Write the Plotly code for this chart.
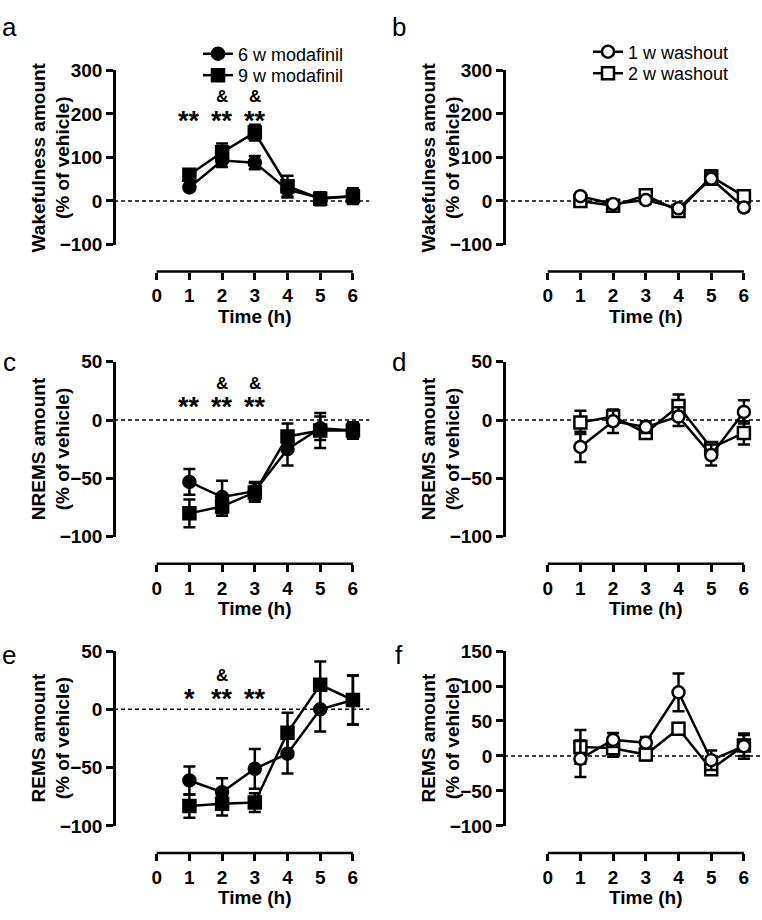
import plotly.graph_objects as go

# ---------------- data ----------------
hours = [1, 2, 3, 4, 5, 6]

# a: wakefulness, modafinil
wake_6w = [31, 93, 88, 26, 7, 11]
wake_6w_err = [6, 15, 15, 18, 12, 12]
wake_9w = [60, 112, 157, 34, 5, 11]
wake_9w_err = [8, 20, 18, 24, 15, 18]

# b: wakefulness, washout
wake_1w = [11, -7, 2, -17, 51, -15]
wake_1w_err = [6, 8, 8, 8, 14, 8]
wake_2w = [0, -11, 13, -23, 56, 11]
wake_2w_err = [6, 8, 8, 6, 14, 8]

# c: NREMS, modafinil
nrem_6w = [-53, -66, -61, -25, -7, -9]
nrem_6w_err = [11, 14, 8, 14, 10, 7]
nrem_9w = [-80, -74, -62, -14, -9, -9]
nrem_9w_err = [12, 8, 8, 11, 15, 7]

# d: NREMS, washout
nrem_1w = [-23, -1, -6, 3, -30, 7]
nrem_1w_err = [13, 10, 5, 8, 9, 10]
nrem_2w = [-2, 3, -11, 12, -24, -11]
nrem_2w_err = [10, 5, 5, 10, 5, 10]

# e: REMS, modafinil
rem_6w = [-61, -71, -51, -38, 0, 8]
rem_6w_err = [12, 12, 17, 17, 19, 21]
rem_9w = [-83, -81, -80, -20, 21, 8]
rem_9w_err = [10, 10, 8, 17, 20, 21]

# f: REMS, washout
rem_1w = [-4, 23, 19, 91, -6, 14]
rem_1w_err = [26, 10, 8, 27, 14, 18]
rem_2w = [13, 11, 2, 39, -19, 15]
rem_2w_err = [24, 12, 8, 8, 8, 15]

# significance marks: (hour, value, text)
stars_a = [(1, 184, "**"), (2, 184, "**"), (3, 184, "**")]
amps_a = [(2, 240, "&"), (3, 240, "&")]
stars_c = [(1, 11.5, "**"), (2, 11.5, "**"), (3, 11.5, "**")]
amps_c = [(2, 31.5, "&"), (3, 31.5, "&")]
stars_e = [(1, 9, "*"), (2, 9, "**"), (3, 9, "**")]
amps_e = [(2, 29, "&")]

ylabels = {
    "a": "Wakefulness amount<br>(% of vehicle)",
    "c": "NREMS amount<br>(% of vehicle)",
    "e": "REMS amount<br>(% of vehicle)",
}
xlabel = "Time (h)"
names_mod = ["6 w modafinil", "9 w modafinil"]
names_wash = ["1 w washout", "2 w washout"]

# ---------------- layout geometry (pixels) ----------------
W, H = 762, 920
FONT = "Liberation Sans"
col_yaxis = [114, 504]
col_x0 = [156.7, 547.7]
px_per_h = 32.7
XPAD = 0.35  # hours of padding so end-point error caps are not clipped
rows = [  # (top px, bottom px, x-axis line px)
    (61.7, 240, 267.7),
    (360, 539, 566.7),
    (656, 835, 862.7),
]


def fx(px):
    return px / W


def fy(py):
    return 1 - py / H


fig = go.Figure()

panels = [
    ("a", 0, 0, [-100, 300], 100,
     [(wake_6w, wake_6w_err, "circle", "black", names_mod[0], "legend"),
      (wake_9w, wake_9w_err, "square", "black", names_mod[1], "legend2")], stars_a, amps_a),
    ("b", 0, 1, [-100, 300], 100,
     [(wake_2w, wake_2w_err, "square", "white", names_wash[1], "legend4"),
      (wake_1w, wake_1w_err, "circle", "white", names_wash[0], "legend3")], [], []),
    ("c", 1, 0, [-100, 50], 50,
     [(nrem_6w, nrem_6w_err, "circle", "black", None, None),
      (nrem_9w, nrem_9w_err, "square", "black", None, None)], stars_c, amps_c),
    ("d", 1, 1, [-100, 50], 50,
     [(nrem_2w, nrem_2w_err, "square", "white", None, None),
      (nrem_1w, nrem_1w_err, "circle", "white", None, None)], [], []),
    ("e", 2, 0, [-100, 50], 50,
     [(rem_6w, rem_6w_err, "circle", "black", None, None),
      (rem_9w, rem_9w_err, "square", "black", None, None)], stars_e, amps_e),
    ("f", 2, 1, [-100, 150], 50,
     [(rem_2w, rem_2w_err, "square", "white", None, None),
      (rem_1w, rem_1w_err, "circle", "white", None, None)], [], []),
]

annotations = []
shapes = []
layout_axes = {}
tickfont = dict(family=FONT, size=19, color="black", weight="bold")

for i, (letter, r, c, yr, dt, series, stars, amps) in enumerate(panels):
    n = i + 1
    xa = "x" if n == 1 else f"x{n}"
    ya = "y" if n == 1 else f"y{n}"
    top, bot, xline = rows[r]
    x0 = col_x0[c]
    yax = col_yaxis[c]
    dom_l = x0 - XPAD * px_per_h
    dom_r = x0 + (6 + XPAD) * px_per_h

    layout_axes["xaxis" if n == 1 else f"xaxis{n}"] = dict(
        domain=[fx(dom_l), fx(dom_r)], range=[-XPAD, 6 + XPAD], anchor="free", position=fy(xline),
        tickvals=[0, 1, 2, 3, 4, 5, 6], ticks="outside", ticklen=7, tickwidth=2.5, tickcolor="black",
        showline=False, showgrid=False, zeroline=False, tickfont=tickfont,
    )
    layout_axes["yaxis" if n == 1 else f"yaxis{n}"] = dict(
        domain=[fy(bot), fy(top)], range=yr, anchor="free", position=fx(yax),
        dtick=dt, tick0=0, ticks="outside", ticklen=7, tickwidth=2.5, tickcolor="black",
        showline=True, linewidth=2.5, linecolor="black", showgrid=False, zeroline=False,
        tickfont=tickfont,
    )

    # x-axis line spanning 0..6 only
    shapes.append(dict(type="line", xref=xa, yref="paper", x0=0, x1=6, y0=fy(xline), y1=fy(xline),
                       line=dict(color="black", width=2.5)))
    # dashed zero line
    shapes.append(dict(type="line", xref="paper", yref=ya, x0=fx(yax), x1=fx(x0 + 6.5 * px_per_h),
                       y0=0, y1=0, line=dict(color="black", width=1.5, dash="4px,3px"), layer="below"))

    for vals, errs, sym, fill, name, leg in series:
        fig.add_trace(go.Scatter(
            x=hours, y=vals, xaxis=xa, yaxis=ya, mode="lines+markers",
            line=dict(color="black", width=2.5),
            marker=dict(symbol=sym, size=12, color=fill, line=dict(color="black", width=2.5)),
            error_y=dict(type="data", array=errs, visible=True, color="black", thickness=2.5, width=6),
            cliponaxis=False,
            name=name if name else "",
            showlegend=name is not None,
            legend=leg if leg else "legend",
        ))

    for hx, hv, txt in stars:
        annotations.append(dict(x=hx, y=hv, xref=xa, yref=ya, text=txt, showarrow=False,
                                xanchor="center", yanchor="middle",
                                font=dict(family=FONT, size=27, color="black", weight="bold")))
    for hx, hv, txt in amps:
        annotations.append(dict(x=hx, y=hv, xref=xa, yref=ya, text=txt, showarrow=False,
                                xanchor="center", yanchor="middle",
                                font=dict(family=FONT, size=17, color="black", weight="bold")))

    # x title
    annotations.append(dict(x=fx(x0 + 3 * px_per_h), y=fy(xline + 46), xref="paper", yref="paper",
                            text=xlabel, showarrow=False, xanchor="center", yanchor="middle",
                            font=dict(family=FONT, size=19, color="black", weight="bold")))
    # y title
    ylab = ylabels["a" if r == 0 else ("c" if r == 1 else "e")]
    annotations.append(dict(x=fx(yax - 63), y=fy((top + bot) / 2), xref="paper", yref="paper",
                            text=ylab, showarrow=False, textangle=-90, xanchor="center", yanchor="middle",
                            font=dict(family=FONT, size=19, color="black", weight="bold")))
    # panel letter
    annotations.append(dict(x=fx(9 + 390 * c), y=fy([17, 360, 660][r]), xref="paper", yref="paper",
                            text=letter, showarrow=False, xanchor="center", yanchor="middle",
                            font=dict(family=FONT, size=26, color="black")))

leg_common = dict(xanchor="left", yanchor="middle", bgcolor="rgba(0,0,0,0)", borderwidth=0,
                  font=dict(family=FONT, size=18, color="black"))

fig.update_layout(
    width=W, height=H, margin=dict(l=0, r=0, t=0, b=0),
    paper_bgcolor="white", plot_bgcolor="rgba(0,0,0,0)",
    showlegend=True,
    legend=dict(x=fx(198), y=fy(45), **leg_common),
    legend2=dict(x=fx(198), y=fy(67), **leg_common),
    legend3=dict(x=fx(588), y=fy(43), **leg_common),
    legend4=dict(x=fx(588), y=fy(65), **leg_common),
    annotations=annotations, shapes=shapes,
    **layout_axes,
)

fig.write_html("out.html", config={"displayModeBar": False},
               post_script="document.body.style.margin='0';document.body.style.overflow='hidden';")
